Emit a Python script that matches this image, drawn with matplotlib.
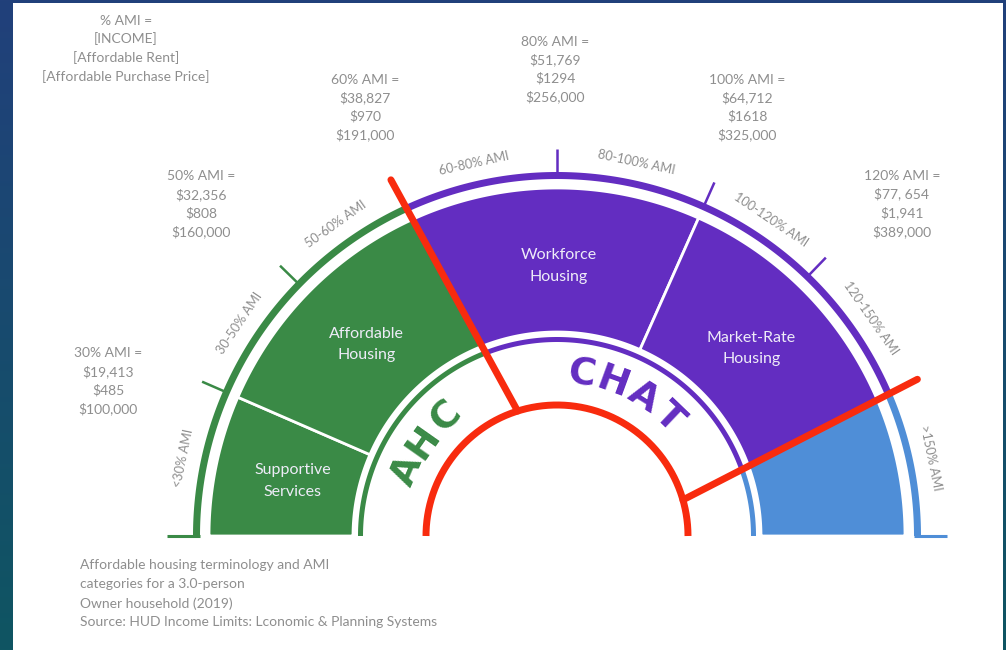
import numpy as np
import matplotlib
matplotlib.use("Agg")
import matplotlib.pyplot as plt
from matplotlib.colors import LinearSegmentedColormap
from matplotlib.patches import Polygon, Rectangle

plt.rcParams["font.family"] = ["Lato", "DejaVu Sans"]

W, H = 1006, 650
CX, CY = 557, 114  # dial centre, pixel space with y going up

# dial scale: % AMI -> angle in degrees (180 = left end, 0 = right end)
ami_breaks = [0, 30, 50, 60, 80, 100, 120, 150, 200]
dial_angles = [180, 156.5, 135.7, 115, 90, 66, 46, 23.5, 0]

band_labels = ["<30% AMI", "30-50% AMI", "50-60% AMI", "60-80% AMI",
               "80-100% AMI", "100-120% AMI", "120-150% AMI", ">150% AMI"]

ami_levels = ["30%", "50%", "60%", "80%", "100%", "120%"]
ami_income = ["$19,413", "$32,356", "$38,827", "$51,769", "$64,712", "$77, 654"]
ami_rent = ["$485", "$808", "$970", "$1294", "$1618", "$1,941"]
ami_price = ["$100,000", "$160,000", "$191,000", "$256,000", "$325,000", "$389,000"]

housing_labels = ["Supportive\nServices", "Affordable\nHousing", "Workforce\nHousing",
                  "Market-Rate\nHousing", ""]
housing_ranges = [(0, 30), (30, 60), (60, 100), (100, 150), (150, 200)]

agency_names = ["AHC", "CHAT", ""]
agency_ranges = [(0, 60), (60, 150), (150, 200)]

tick_ami = [30, 50, 80, 100, 120]
divider_ami = [60, 150]  # red lines between agencies

GREEN = "#3a8a46"
PURPLE = "#632dc1"
BLUE = "#4f8ed7"
RED = "#f82b0e"
GRAY = "#8e8e8e"
agency_colors = [GREEN, PURPLE, BLUE]

# radii (px)
R_FILL = (204, 348)
R_OUTER = (357, 364)
R_INNER = (194, 199)
R_RED = 131
R_DIV = 393
DIV_TILT = -7.5
R_TICK = 387
R_BAND = 382
R_HOUSING = 270
R_AGENCY = 163
LETTER_STEP = 11.7

# text block positions (x, y from top) for the AMI call-outs
block_pos = [(108, 381), (201, 204), (365, 107.5), (555, 69.5), (747, 107.5), (902, 204)]
header_pos = (126, 49)


def dial(ami):
    return np.interp(ami, ami_breaks, dial_angles)


def polar(a, r):
    t = np.radians(a)
    return CX + r * np.cos(t), CY + r * np.sin(t)


def divider_ends(ami):
    a = dial(ami)
    return polar(a + DIV_TILT, R_RED), polar(a, R_DIV)


def edge_angle(ami, r):
    if ami not in divider_ami:
        return float(dial(ami))
    (x0, y0), (x1, y1) = divider_ends(ami)
    p0 = np.array([x0 - CX, y0 - CY])
    d = np.array([x1 - x0, y1 - y0])
    A, B, C = d @ d, 2 * p0 @ d, p0 @ p0 - r * r
    t = (-B + np.sqrt(B * B - 4 * A * C)) / (2 * A)
    p = p0 + t * d
    return float(np.degrees(np.arctan2(p[1], p[0])))


def sector(ax, lo, hi, r_in, r_out, **kw):
    ao = np.linspace(edge_angle(lo, r_out), edge_angle(hi, r_out), 120)
    ai = np.linspace(edge_angle(hi, r_in), edge_angle(lo, r_in), 120)
    xo, yo = polar(ao, r_out)
    xi, yi = polar(ai, r_in)
    pts = np.column_stack([np.concatenate([xo, xi]), np.concatenate([yo, yi])])
    ax.add_patch(Polygon(pts, closed=True, **kw))


fig = plt.figure(figsize=(W / 100, H / 100), dpi=100)
ax = fig.add_axes([0, 0, 1, 1])
ax.set_xlim(0, W)
ax.set_ylim(0, H)
ax.axis("off")

# frame: navy-to-teal gradient behind a white card
cmap = LinearSegmentedColormap.from_list("frame", ["#0f5562", "#21407b"])
ax.imshow(np.linspace(0, 1, 256).reshape(-1, 1), extent=[0, W, 0, H], origin="lower",
          aspect="auto", cmap=cmap, zorder=0)
ax.add_patch(Rectangle((13, 0), 990, H - 3, facecolor="white", edgecolor="none", zorder=1))

# housing fills
for i, (lo, hi) in enumerate(housing_ranges):
    color = agency_colors[0] if hi <= 60 else agency_colors[1] if hi <= 150 else agency_colors[2]
    sector(ax, lo, hi, R_FILL[0], R_FILL[1], facecolor=color, edgecolor="white",
           linewidth=2, zorder=2)
    if housing_labels[i]:
        a = (edge_angle(lo, R_HOUSING) + edge_angle(hi, R_HOUSING)) / 2
        x, y = polar(a, R_HOUSING)
        ax.text(x, y, housing_labels[i], ha="center", va="center", fontsize=11.5,
                color="#eeecf8", linespacing=1.65, zorder=6)

# agency rings, ticks, feet and names
for i, (lo, hi) in enumerate(agency_ranges):
    for r_in, r_out in (R_OUTER, R_INNER):
        sector(ax, lo, hi, r_in, r_out, facecolor=agency_colors[i], edgecolor="none", zorder=2)
    name = agency_names[i]
    mid = (edge_angle(lo, R_AGENCY) + edge_angle(hi, R_AGENCY)) / 2
    for k, ch in enumerate(name):
        a = mid + (len(name) - 1) / 2 * LETTER_STEP - k * LETTER_STEP
        x, y = polar(a, R_AGENCY)
        ax.text(x, y, ch, ha="center", va="center", rotation=a - 90, fontsize=27,
                fontweight="bold", family="DejaVu Sans", color=agency_colors[i],
                zorder=6, rotation_mode="anchor")

for ami in tick_ami:
    a = dial(ami)
    color = GREEN if ami < 60 else PURPLE
    xs, ys = polar(np.array([a, a]), np.array([R_OUTER[1] - 1, R_TICK]))
    ax.plot(xs, ys, color=color, lw=1.8, solid_capstyle="butt", zorder=3)

for ami, color in ((0, GREEN), (200, BLUE)):
    a = dial(ami)
    xs, ys = polar(np.array([a, a]), np.array([R_OUTER[0], R_OUTER[1] + 26]))
    ax.plot(xs, ys, color=color, lw=2.2, solid_capstyle="butt", zorder=3)

# band labels round the outside
for k, lab in enumerate(band_labels):
    a = (dial(ami_breaks[k]) + dial(ami_breaks[k + 1])) / 2
    x, y = polar(a, R_BAND)
    ax.text(x, y, lab, ha="center", va="center", rotation=a - 90, fontsize=9.2,
            color=GRAY, rotation_mode="anchor", zorder=6)

# red agency boundary
arc = np.linspace(0, 180, 300)
ax.plot(*polar(arc, R_RED), color=RED, lw=5, solid_capstyle="butt", zorder=5)
for ami in divider_ami:
    (x0, y0), (x1, y1) = divider_ends(ami)
    ax.plot([x0, x1], [y0, y1], color=RED, lw=5, solid_capstyle="round", zorder=5)

# AMI call-outs
ax.text(header_pos[0], H - header_pos[1],
        "% AMI =\n[INCOME]\n[Affordable Rent]\n[Affordable Purchase Price]",
        ha="center", va="center", fontsize=10, color=GRAY, linespacing=1.55, zorder=6)
for k, lvl in enumerate(ami_levels):
    x, y = block_pos[k]
    ax.text(x, H - y, f"{lvl} AMI =\n{ami_income[k]}\n{ami_rent[k]}\n{ami_price[k]}",
            ha="center", va="center", fontsize=10, color=GRAY, linespacing=1.55, zorder=6)

ax.text(80, H - 559,
        "Affordable housing terminology and AMI\ncategories for a 3.0-person\n"
        "Owner household (2019)\nSource: HUD Income Limits: Lconomic & Planning Systems",
        ha="left", va="top", fontsize=10, color=GRAY, linespacing=1.68, zorder=6)

fig.savefig("out.png", dpi=100)
